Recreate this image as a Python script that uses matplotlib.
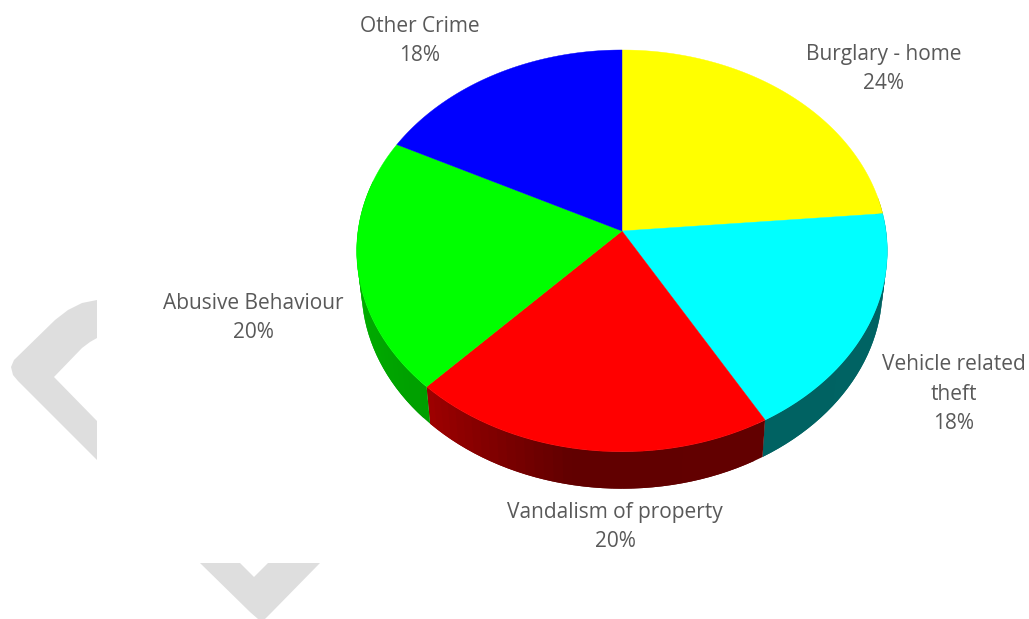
import numpy as np
import matplotlib
matplotlib.use("Agg")
import matplotlib.pyplot as plt
from matplotlib.patches import Polygon

plt.rcParams['font.family'] = ['Open Sans', 'DejaVu Sans']

categories = ["Burglary - home", "Vehicle related\ntheft", "Vandalism of property",
              "Abusive Behaviour", "Other Crime"]
values = [23.6, 18.15, 20.3, 20.45, 17.5]
colors = ["#ffff00", "#00ffff", "#ff0000", "#00ff00", "#0000ff"]
label_xy = [(884, 69), (954, 394), (615, 527), (253, 318), (420, 41)]

CX, CY, A, B, K = 622, 231, 264, 198.9, 0.0988
DEPTH, XS = 37, 0.982


def rim(theta):
    """Perspective projection of the pie's circular rim (theta clockwise from top)."""
    t = np.radians(theta)
    w = 1 + K * np.cos(t)
    return CX + A * np.sin(t) / w, CY - B * np.cos(t) / w


def shade(theta):
    return np.interp(theta, [0, 190, 223, 280, 360], [0.40, 0.38, 0.62, 0.72, 0.72])


fig = plt.figure(figsize=(10.29, 6.19), dpi=100, facecolor="white")
ax = fig.add_axes([0, 0, 1, 1])
ax.set_xlim(0, 1029)
ax.set_ylim(619, 0)
ax.axis("off")

# background watermark chevrons
gray = "#dedede"
ax.add_patch(Polygon([(97, 300), (82, 303), (68, 310), (55, 320), (14, 360), (11, 367), (13, 375),
                      (18, 381), (97, 460), (97, 421), (54, 377), (82, 348), (90, 342), (97, 338)],
                     fc=gray, ec="none", zorder=1))
ax.add_patch(Polygon([(200, 563), (240, 563), (254, 577), (268, 563), (320, 563), (272, 612),
                      (265, 619), (258, 619), (250, 612)],
                     fc=gray, ec="none", zorder=1))

edges = np.concatenate([[0], np.cumsum(values)]) / np.sum(values) * 360
rgb = [np.array(matplotlib.colors.to_rgb(c)) for c in colors]

# side walls: only the front-facing part of the rim, painted in overlapping steps
for i in range(len(values)):
    lo, hi = max(edges[i], 80), min(edges[i + 1], 285)
    if hi <= lo:
        continue
    th = np.linspace(lo, hi, int((hi - lo) / 2) + 2)
    for j, (t0, t1) in enumerate(zip(th[:-1], th[1:])):
        t_end = th[min(j + 2, len(th) - 1)]
        x0, y0 = rim(t0)
        xm, ym = rim(t1)
        x1, y1 = rim(t_end)
        col = rgb[i] * shade((t0 + t1) / 2)
        pts = [(x0, y0), (xm, ym), (x1, y1),
               (CX + (x1 - CX) * XS, y1 + DEPTH),
               (CX + (xm - CX) * XS, ym + DEPTH),
               (CX + (x0 - CX) * XS, y0 + DEPTH)]
        ax.add_patch(Polygon(pts, fc=col, ec="none", zorder=2))

# top faces
for i in range(len(values)):
    th = np.linspace(edges[i], edges[i + 1], 120)
    x, y = rim(th)
    ax.add_patch(Polygon(np.column_stack([np.r_[CX, x], np.r_[CY, y]]),
                         fc=colors[i], ec=colors[i], lw=0.3, zorder=3))

for name, v, (lx, ly) in zip(categories, values, label_xy):
    ax.text(lx, ly, f"{name}\n{v:.0f}%", ha="center", va="center", color="#595959",
            fontsize=15, linespacing=1.53, zorder=4)

fig.savefig("out.png", dpi=100)
